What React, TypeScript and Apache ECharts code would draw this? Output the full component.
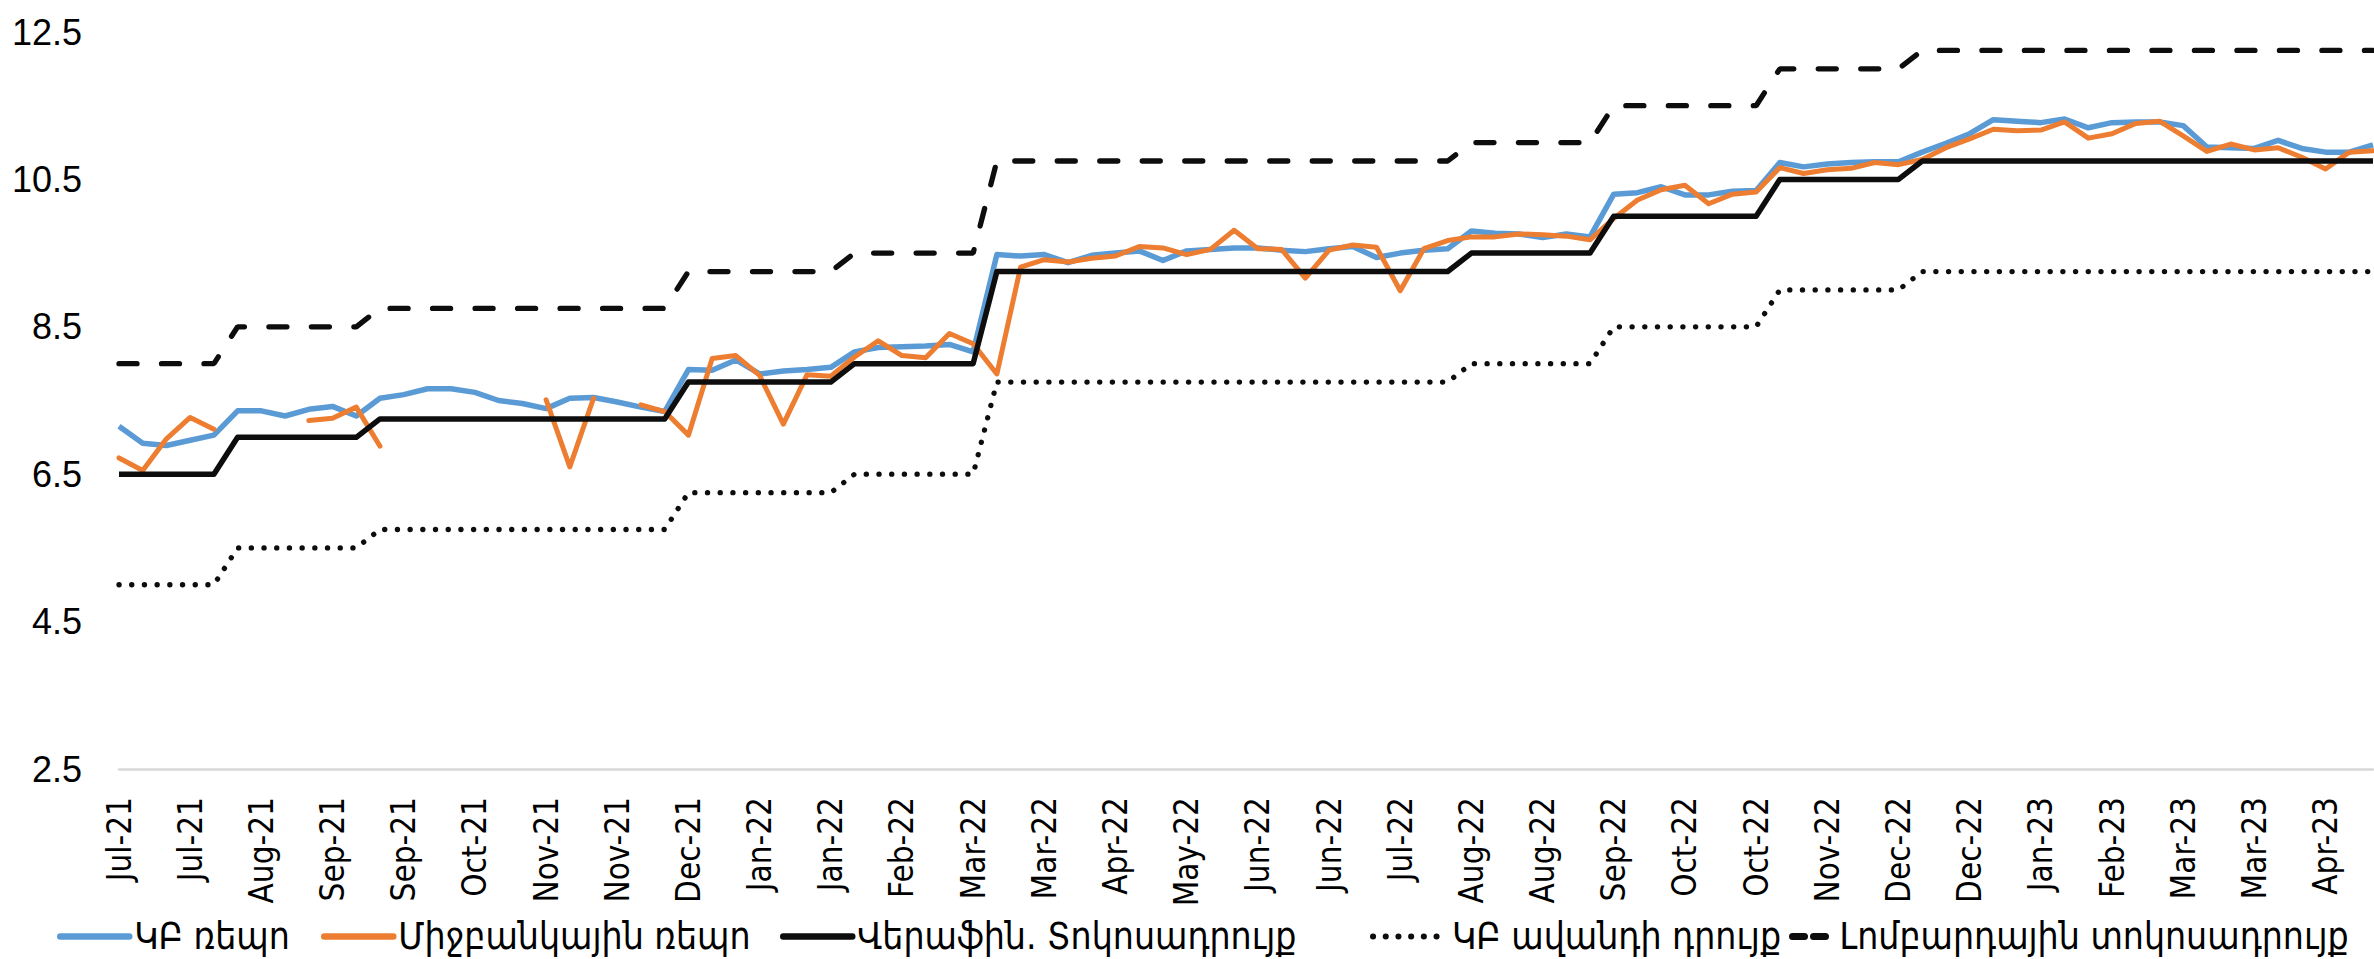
import React, { useEffect, useRef } from "react";
import * as echarts from "echarts";

const categories = [
  "Jul-21", "Jul-21", "Jul-21", "Jul-21", "Jul-21",
  "Aug-21", "Aug-21", "Aug-21", "Aug-21",
  "Sep-21", "Sep-21", "Sep-21", "Sep-21", "Sep-21",
  "Oct-21", "Oct-21", "Oct-21", "Oct-21",
  "Nov-21", "Nov-21", "Nov-21", "Nov-21",
  "Dec-21", "Dec-21", "Dec-21", "Dec-21", "Dec-21",
  "Jan-22", "Jan-22", "Jan-22", "Jan-22",
  "Feb-22", "Feb-22", "Feb-22", "Feb-22",
  "Mar-22", "Mar-22", "Mar-22", "Mar-22", "Mar-22",
  "Apr-22", "Apr-22", "Apr-22", "Apr-22",
  "May-22", "May-22", "May-22", "May-22",
  "Jun-22", "Jun-22", "Jun-22", "Jun-22", "Jun-22",
  "Jul-22", "Jul-22", "Jul-22", "Jul-22",
  "Aug-22", "Aug-22", "Aug-22", "Aug-22",
  "Sep-22", "Sep-22", "Sep-22", "Sep-22", "Sep-22",
  "Oct-22", "Oct-22", "Oct-22", "Oct-22",
  "Nov-22", "Nov-22", "Nov-22", "Nov-22",
  "Dec-22", "Dec-22", "Dec-22", "Dec-22", "Dec-22",
  "Jan-23", "Jan-23", "Jan-23", "Jan-23",
  "Feb-23", "Feb-23", "Feb-23", "Feb-23",
  "Mar-23", "Mar-23", "Mar-23", "Mar-23", "Mar-23",
  "Apr-23", "Apr-23", "Apr-23", "Apr-23",
];

const cbRepo = [
  7.15, 6.92, 6.89, 6.96, 7.03, 7.36, 7.36, 7.29, 7.38, 7.42,
  7.29, 7.53, 7.58, 7.66, 7.66, 7.61, 7.50, 7.46, 7.39, 7.53,
  7.54, 7.48, 7.41, 7.35, 7.92, 7.91, 8.05, 7.86, 7.90, 7.92,
  7.95, 8.16, 8.22, 8.23, 8.24, 8.26, 8.16, 9.48, 9.46, 9.48,
  9.37, 9.47, 9.50, 9.53, 9.40, 9.53, 9.55, 9.57, 9.57, 9.54,
  9.52, 9.56, 9.59, 9.44, 9.50, 9.54, 9.56, 9.80, 9.77, 9.76,
  9.71, 9.76, 9.72, 10.30, 10.32, 10.40, 10.29, 10.29, 10.34, 10.35,
  10.73, 10.67, 10.71, 10.73, 10.74, 10.74, 10.87, 10.99, 11.12, 11.31,
  11.29, 11.27, 11.32, 11.20, 11.27, 11.28, 11.28, 11.23, 10.94, 10.93,
  10.92, 11.03, 10.92, 10.87, 10.87, 10.97,
];

const interbankRepo = [
  6.72, 6.55, 6.98, 7.27, 7.11, null, null, null, 7.23, 7.26,
  7.41, 6.88, null, null, null, null, null, null, 7.51, 6.60,
  7.53, null, 7.44, 7.35, 7.03, 8.07, 8.11, 7.84, 7.18, 7.85,
  7.83, 8.09, 8.31, 8.11, 8.08, 8.41, 8.27, 7.86, 9.31, 9.41,
  9.38, 9.43, 9.46, 9.59, 9.57, 9.48, 9.55, 9.81, 9.56, 9.55,
  9.16, 9.54, 9.61, 9.58, 8.99, 9.56, 9.67, 9.72, 9.72, 9.76,
  9.75, 9.73, 9.68, 9.97, 10.22, 10.36, 10.42, 10.17, 10.30, 10.33,
  10.66, 10.58, 10.63, 10.65, 10.73, 10.70, 10.77, 10.93, 11.05, 11.18,
  11.16, 11.17, 11.28, 11.06, 11.12, 11.26, 11.29, 11.09, 10.88, 10.98,
  10.90, 10.93, 10.80, 10.64, 10.87, 10.89,
];

const refinancingRate = [
  6.5, 6.5, 6.5, 6.5, 6.5, 7, 7, 7, 7, 7,
  7, 7.25, 7.25, 7.25, 7.25, 7.25, 7.25, 7.25, 7.25, 7.25,
  7.25, 7.25, 7.25, 7.25, 7.75, 7.75, 7.75, 7.75, 7.75, 7.75,
  7.75, 8, 8, 8, 8, 8, 8, 9.25, 9.25, 9.25,
  9.25, 9.25, 9.25, 9.25, 9.25, 9.25, 9.25, 9.25, 9.25, 9.25,
  9.25, 9.25, 9.25, 9.25, 9.25, 9.25, 9.25, 9.5, 9.5, 9.5,
  9.5, 9.5, 9.5, 10, 10, 10, 10, 10, 10, 10,
  10.5, 10.5, 10.5, 10.5, 10.5, 10.5, 10.75, 10.75, 10.75, 10.75,
  10.75, 10.75, 10.75, 10.75, 10.75, 10.75, 10.75, 10.75, 10.75, 10.75,
  10.75, 10.75, 10.75, 10.75, 10.75, 10.75,
];

const depositRate = [
  5, 5, 5, 5, 5, 5.5, 5.5, 5.5, 5.5, 5.5,
  5.5, 5.75, 5.75, 5.75, 5.75, 5.75, 5.75, 5.75, 5.75, 5.75,
  5.75, 5.75, 5.75, 5.75, 6.25, 6.25, 6.25, 6.25, 6.25, 6.25,
  6.25, 6.5, 6.5, 6.5, 6.5, 6.5, 6.5, 7.75, 7.75, 7.75,
  7.75, 7.75, 7.75, 7.75, 7.75, 7.75, 7.75, 7.75, 7.75, 7.75,
  7.75, 7.75, 7.75, 7.75, 7.75, 7.75, 7.75, 8, 8, 8,
  8, 8, 8, 8.5, 8.5, 8.5, 8.5, 8.5, 8.5, 8.5,
  9, 9, 9, 9, 9, 9, 9.25, 9.25, 9.25, 9.25,
  9.25, 9.25, 9.25, 9.25, 9.25, 9.25, 9.25, 9.25, 9.25, 9.25,
  9.25, 9.25, 9.25, 9.25, 9.25, 9.25,
];

const lombardRate = [
  8, 8, 8, 8, 8, 8.5, 8.5, 8.5, 8.5, 8.5,
  8.5, 8.75, 8.75, 8.75, 8.75, 8.75, 8.75, 8.75, 8.75, 8.75,
  8.75, 8.75, 8.75, 8.75, 9.25, 9.25, 9.25, 9.25, 9.25, 9.25,
  9.25, 9.5, 9.5, 9.5, 9.5, 9.5, 9.5, 10.75, 10.75, 10.75,
  10.75, 10.75, 10.75, 10.75, 10.75, 10.75, 10.75, 10.75, 10.75, 10.75,
  10.75, 10.75, 10.75, 10.75, 10.75, 10.75, 10.75, 11, 11, 11,
  11, 11, 11, 11.5, 11.5, 11.5, 11.5, 11.5, 11.5, 11.5,
  12, 12, 12, 12, 12, 12, 12.25, 12.25, 12.25, 12.25,
  12.25, 12.25, 12.25, 12.25, 12.25, 12.25, 12.25, 12.25, 12.25, 12.25,
  12.25, 12.25, 12.25, 12.25, 12.25, 12.25,
];

const yTickLabels = [2.5, 4.5, 6.5, 8.5, 10.5, 12.5];

const seriesNames = [
  "ԿԲ ռեպո",
  "Միջբանկային ռեպո",
  "Վերաֆին. Տոկոսադրույք",
  "ԿԲ ավանդի դրույք",
  "Լոմբարդային տոկոսադրույք",
];

const legendLefts = [57, 321, 780, 1370, 1789];
const legendWidths = [69, 69, 69, 74, 42];

export default function App() {
  const ref = useRef<HTMLDivElement>(null);

  useEffect(() => {
    if (!ref.current) return;
    const chart = echarts.init(ref.current, undefined, { renderer: "svg" });
    const legendFont = '"DejaVu Sans Condensed", "DejaVu Sans", sans-serif';
    const legendLineStyles = [
      { width: 6.5, cap: "round" },
      { width: 6.5, cap: "round" },
      { width: 6.5, cap: "round" },
      { width: 6, type: [0.1, 12.6], cap: "round" },
      { width: 7, type: [12, 9], cap: "round" },
    ];

    const legends = seriesNames.map((name, i) => ({
      data: [name],
      left: legendLefts[i],
      top: 918,
      itemWidth: legendWidths[i],
      itemHeight: 14,
      itemGap: 0,
      padding: 0,
      itemStyle: { opacity: 0, color: "transparent", borderWidth: 0 },
      lineStyle: legendLineStyles[i],
      textStyle: { fontFamily: legendFont, fontSize: 37, color: "#000" },
    }));

    chart.setOption({
      animation: false,
      backgroundColor: "#fff",
      legend: legends,
      grid: { left: 119, right: 1, top: 32, bottom: 190, containLabel: false },
      xAxis: {
        type: "category",
        data: categories,
        boundaryGap: false,
        axisLine: { show: true, lineStyle: { color: "#D9D9D9", width: 2.5 } },
        axisTick: { show: false },
        splitLine: { show: false },
        axisLabel: {
          interval: 2,
          rotate: 90,
          margin: 28,
          fontSize: 33,
          color: "#000",
          fontFamily: '"Liberation Sans Narrow", "Arial Narrow", "DejaVu Sans Condensed", sans-serif',
        },
      },
      yAxis: {
        type: "value",
        min: 2.5,
        max: 12.5,
        interval: 0.5,
        axisLine: { show: false },
        axisTick: { show: false },
        splitLine: { show: false },
        axisLabel: {
          margin: 37,
          fontSize: 36,
          color: "#000",
          fontFamily: '"Liberation Sans", Arial, sans-serif',
          formatter: (v: number) =>
            yTickLabels.some((t) => Math.abs(t - v) < 1e-9) ? v.toFixed(1) : "",
        },
      },
      series: [
        {
          name: seriesNames[0],
          type: "line",
          data: cbRepo,
          symbol: "none",
          showSymbol: false,
          lineStyle: { color: "#5B9BD5", width: 5.5, join: "round" },
          itemStyle: { color: "#5B9BD5" },
          z: 2,
        },
        {
          name: seriesNames[1],
          type: "line",
          data: interbankRepo,
          connectNulls: false,
          symbol: "none",
          showSymbol: false,
          lineStyle: { color: "#ED7D31", width: 5, join: "round", cap: "round" },
          itemStyle: { color: "#ED7D31" },
          z: 3,
        },
        {
          name: seriesNames[2],
          type: "line",
          data: refinancingRate,
          symbol: "none",
          showSymbol: false,
          lineStyle: { color: "#0D0D0D", width: 5.5, join: "round" },
          itemStyle: { color: "#0D0D0D" },
          z: 4,
        },
        {
          name: seriesNames[3],
          type: "line",
          data: depositRate,
          symbol: "none",
          showSymbol: false,
          lineStyle: { color: "#0D0D0D", width: 5.3, type: [0.1, 12.6], cap: "round" },
          itemStyle: { color: "#0D0D0D" },
          z: 4,
        },
        {
          name: seriesNames[4],
          type: "line",
          data: lombardRate,
          symbol: "none",
          showSymbol: false,
          lineStyle: { color: "#0D0D0D", width: 5.3, type: [18, 24.5], cap: "round" },
          itemStyle: { color: "#0D0D0D" },
          z: 4,
        },
      ],
    });

    return () => chart.dispose();
  }, []);

  return (
    <div
      ref={ref}
      style={{ position: "fixed", left: 0, top: 0, width: 2374, height: 959, background: "#fff" }}
    />
  );
}
